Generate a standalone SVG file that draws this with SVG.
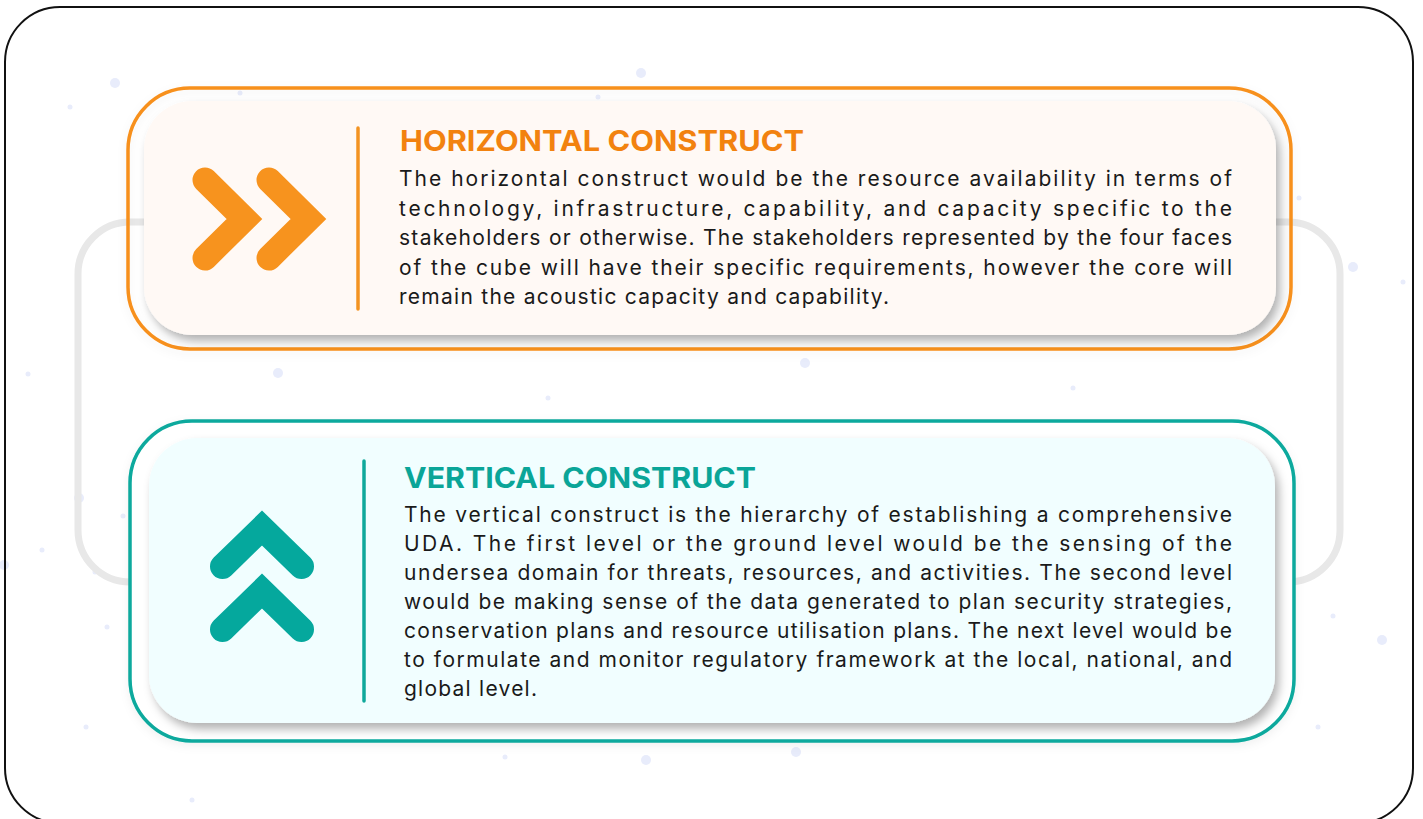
<svg xmlns="http://www.w3.org/2000/svg" width="1423" height="819" viewBox="0 0 1423 819">
  <style>
    .dot { fill: #e8ecfb; }
    .body { font-family: Inter, "Open Sans", "Liberation Sans", sans-serif; font-size: 21px; fill: #1a1a1a; }
    .title { font-family: Inter, "Open Sans", "Liberation Sans", sans-serif; font-size: 28.5px; font-weight: 700; }
    .chev { fill: none; stroke-width: 25; stroke-linecap: round; stroke-linejoin: miter; stroke-miterlimit: 10; }
  </style>
  <defs>
    <filter id="shadow" x="-5%" y="-10%" width="112%" height="130%">
      <feDropShadow dx="4" dy="6" stdDeviation="5" flood-color="#000" flood-opacity="0.3"/>
    </filter>
    <filter id="soft" x="-5%" y="-10%" width="112%" height="130%">
      <feDropShadow dx="0" dy="3" stdDeviation="5" flood-color="#000" flood-opacity="0.06"/>
    </filter>
  </defs>

  <rect width="1423" height="819" fill="#ffffff"/>

  <!-- background dots -->
  <g id="dots">
    <circle class="dot" cx="115" cy="83" r="5"/>
    <circle class="dot" cx="70" cy="107" r="2.5"/>
    <circle class="dot" cx="240" cy="93" r="2.5"/>
    <circle class="dot" cx="641" cy="73" r="5"/>
    <circle class="dot" cx="598" cy="97" r="2.5"/>
    <circle class="dot" cx="1299" cy="198" r="2.5"/>
    <circle class="dot" cx="1353" cy="267" r="5"/>
    <circle class="dot" cx="1403" cy="282" r="2.5"/>
    <circle class="dot" cx="28" cy="374" r="2.5"/>
    <circle class="dot" cx="278" cy="373" r="5"/>
    <circle class="dot" cx="548" cy="398" r="2.5"/>
    <circle class="dot" cx="805" cy="363" r="5"/>
    <circle class="dot" cx="1073" cy="388" r="2.5"/>
    <circle class="dot" cx="79" cy="498" r="5"/>
    <circle class="dot" cx="123" cy="516" r="2.5"/>
    <circle class="dot" cx="42" cy="550" r="2.5"/>
    <circle class="dot" cx="4" cy="565" r="5"/>
    <circle class="dot" cx="95" cy="572" r="2.5"/>
    <circle class="dot" cx="107" cy="627" r="2.5"/>
    <circle class="dot" cx="1333" cy="616" r="2.5"/>
    <circle class="dot" cx="1382" cy="640" r="5"/>
    <circle class="dot" cx="1318" cy="727" r="2.5"/>
    <circle class="dot" cx="86" cy="727" r="2.5"/>
    <circle class="dot" cx="505" cy="757" r="2.5"/>
    <circle class="dot" cx="646" cy="760" r="5"/>
    <circle class="dot" cx="796" cy="752" r="5"/>
    <circle class="dot" cx="192" cy="800" r="2.5"/>
  </g>

  <!-- outer frame -->
  <rect id="frame" x="5" y="7" width="1408" height="816" rx="55" fill="none" stroke="#111" stroke-width="2"/>

  <!-- connector ring -->
  <g id="connectors">
    <rect x="78" y="222" width="1262" height="360" rx="52" fill="none" stroke="#e8e8e8" stroke-width="7"/>
  </g>

  <!-- horizontal construct node -->
  <g id="horizontal">
    <rect x="128" y="88" width="1163" height="261" rx="62" fill="none" stroke="#f7901e" stroke-width="3.5" filter="url(#soft)"/>
    <rect x="144" y="101" width="1132" height="234" rx="48" fill="#fff9f5" filter="url(#shadow)"/>
    <polyline class="chev" stroke="#f7931e" points="205,180 244.5,219 205,258"/>
    <polyline class="chev" stroke="#f7931e" points="269,180 308.5,219 269,258"/>
    <line x1="358" y1="128" x2="358" y2="309" stroke="#f39321" stroke-width="3.5" stroke-linecap="round"/>
    <text class="title" x="400" y="151" fill="#f2820f" textLength="404" lengthAdjust="spacingAndGlyphs">HORIZONTAL CONSTRUCT</text>
    <text class="body" x="399" y="186" textLength="833" lengthAdjust="spacing">The horizontal construct would be the resource availability in terms of</text>
    <text class="body" x="399" y="215.5" textLength="833" lengthAdjust="spacing">technology, infrastructure, capability, and capacity specific to the</text>
    <text class="body" x="399" y="245" textLength="833" lengthAdjust="spacing">stakeholders or otherwise. The stakeholders represented by the four faces</text>
    <text class="body" x="399" y="274.5" textLength="833" lengthAdjust="spacing">of the cube will have their specific requirements, however the core will</text>
    <text class="body" x="399" y="304" textLength="490" lengthAdjust="spacing">remain the acoustic capacity and capability.</text>
  </g>

  <!-- vertical construct node -->
  <g id="vertical">
    <rect x="130" y="421" width="1164" height="320" rx="62" fill="#ffffff" stroke="#0aa99d" stroke-width="3.5" filter="url(#soft)"/>
    <rect x="149" y="438" width="1126" height="285" rx="48" fill="#f1feff" filter="url(#shadow)"/>
    <polyline class="chev" stroke="#05a89d" points="222.5,566.5 262,528 301.5,566.5"/>
    <polyline class="chev" stroke="#05a89d" points="222.5,629.5 262,591 301.5,629.5"/>
    <line x1="364" y1="461" x2="364" y2="701" stroke="#0fa89b" stroke-width="3.5" stroke-linecap="round"/>
    <text class="title" x="404" y="488" fill="#0aa598" textLength="352" lengthAdjust="spacingAndGlyphs">VERTICAL CONSTRUCT</text>
    <text class="body" x="404" y="522" textLength="828" lengthAdjust="spacing">The vertical construct is the hierarchy of establishing a comprehensive</text>
    <text class="body" x="404" y="551" textLength="828" lengthAdjust="spacing">UDA. The first level or the ground level would be the sensing of the</text>
    <text class="body" x="404" y="580" textLength="828" lengthAdjust="spacing">undersea domain for threats, resources, and activities. The second level</text>
    <text class="body" x="404" y="609" textLength="828" lengthAdjust="spacing">would be making sense of the data generated to plan security strategies,</text>
    <text class="body" x="404" y="638" textLength="828" lengthAdjust="spacing">conservation plans and resource utilisation plans. The next level would be</text>
    <text class="body" x="404" y="667" textLength="828" lengthAdjust="spacing">to formulate and monitor regulatory framework at the local, national, and</text>
    <text class="body" x="404" y="696" textLength="133" lengthAdjust="spacing">global level.</text>
  </g>
</svg>
